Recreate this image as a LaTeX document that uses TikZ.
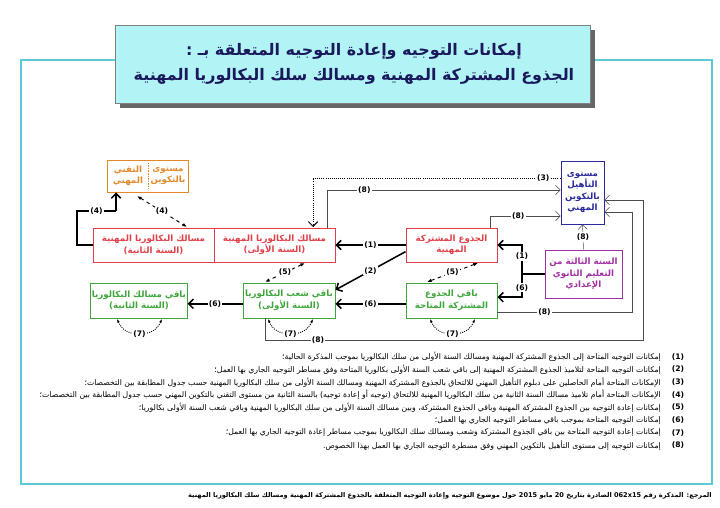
\documentclass[tikz,border=0pt]{standalone}
\usepackage{fontspec}
\setmainfont{DejaVu Sans}
\newfontfamily\arabicfont[Script=Arabic]{DejaVu Sans}
\TeXXeTstate=1
\newcommand{\ar}[1]{{\arabicfont\beginR #1\endR}}
\usetikzlibrary{arrows.meta}
\definecolor{frm}{HTML}{5CC9D6}
\definecolor{ttl}{HTML}{B2F3F6}
\definecolor{rd}{HTML}{E0404A}
\definecolor{gr}{HTML}{3FA63C}
\definecolor{org}{HTML}{E08A2A}
\definecolor{bl}{HTML}{2A2A9A}
\definecolor{pu}{HTML}{A030A0}
\begin{document}
\begin{tikzpicture}[x=0.03cm,y=-0.03cm,
  box/.style={draw=#1,text=#1,thick,fill=white,font=\bfseries\fontsize{7.4}{9.8}\selectfont,align=center,inner sep=1pt},
  lab/.style={fill=white,font=\bfseries\fontsize{6.5}{7}\selectfont,inner sep=1pt},
  thk/.style={line width=1.3pt,-{Straight Barb[length=4pt]}},
  thn/.style={draw=black!70,-{Straight Barb[length=4pt]}},
  dsh/.style={dashed,thick,{Latex[length=4pt]}-{Latex[length=4pt]}},
  dtd/.style={densely dotted,thick,{Latex[length=3pt]}-{Latex[length=3pt]}},
  leg/.style={font=\fontsize{6.6}{8}\selectfont,anchor=east,inner sep=0pt},
  num/.style={font=\bfseries\fontsize{6.5}{7}\selectfont,inner sep=0pt}]
\useasboundingbox (0,0) rectangle (720,508);
\fill[white] (0,0) rectangle (720,508);
% frame
\draw[frm,line width=2pt] (21,60) rectangle (712,484);
\fill[black!60] (120,30) rectangle (595,108);
\node[draw=black!50,fill=ttl,minimum width=475*0.03cm,minimum height=78*0.03cm,anchor=north west,inner sep=0pt] (title) at (115,25) {};
\node[text=bl!60!black,font=\bfseries\fontsize{13.6}{21}\selectfont,align=center] (tt) at (354,64) {\ar{إمكانات التوجيه وإعادة التوجيه المتعلقة بـ :}\\\ar{الجذوع المشتركة المهنية ومسالك سلك البكالوريا المهنية}};
% nodes
\node[box=org,minimum width=81*0.03cm,minimum height=32*0.03cm] (ot) at (147.5,176) {};
\node[text=org,font=\bfseries\fontsize{7.4}{9.8}\selectfont,align=center] (ot1) at (168,176) {\ar{مستوى}\\\ar{بالتكوين}};
\node[text=org,font=\bfseries\fontsize{7.4}{9.8}\selectfont,align=center] (ot2) at (128,176) {\ar{التقني}\\\ar{المهني}};
\draw[org,densely dotted] (148,163) -- (148,189);
\node[box=rd,minimum width=121*0.03cm,minimum height=34*0.03cm] (r2) at (153.5,245) {\ar{مسالك البكالوريا المهنية}\\\ar{(السنة الثانية)}};
\node[box=rd,minimum width=121*0.03cm,minimum height=34*0.03cm] (r1) at (274.5,245) {\ar{مسالك البكالوريا المهنية}\\\ar{(السنة الأولى)}};
\node[box=gr,minimum width=92*0.03cm,minimum height=35*0.03cm] (g2) at (139,300.5) {\ar{باقي مسالك البكالوريا}\\\ar{(السنة الثانية)}};
\node[box=gr,minimum width=92*0.03cm,minimum height=35*0.03cm] (g1) at (289,300.5) {\ar{باقي شعب البكالوريا}\\\ar{(السنة الأولى)}};
\node[box=rd,minimum width=91*0.03cm,minimum height=34*0.03cm] (rc) at (451.5,245) {\ar{الجذوع المشتركة}\\\ar{المهنية}};
\node[box=gr,minimum width=91*0.03cm,minimum height=35*0.03cm] (gc) at (451.5,300.5) {\ar{باقي الجذوع}\\\ar{المشتركة المتاحة}};
\node[box=bl,minimum width=43*0.03cm,minimum height=63*0.03cm] (bq) at (582.5,192.5) {\ar{مستوى}\\\ar{التأهيل}\\\ar{بالتكوين}\\\ar{المهني}};
\node[box=pu,minimum width=77*0.03cm,minimum height=48*0.03cm] (p3) at (583.5,274) {\ar{السنة الثالثة من}\\\ar{التعليم الثانوي}\\\ar{الإعدادي}};
% thick arrows
\draw[thk] (rc.west) -- node[lab]{(1)} (r1.east);
\draw[thk] ([yshift=-0.2cm]rc.west) -- node[lab,pos=0.5]{(2)} ([yshift=-0.22cm]g1.north east);
\draw[thk] ([yshift=-0.1cm]gc.west) -- node[lab]{(6)} ([yshift=-0.1cm]g1.east);
\draw[thk] ([yshift=-0.1cm]g1.west) -- node[lab]{(6)} ([yshift=-0.1cm]g2.east);
\coordinate (pj) at (522,274);
\draw[line width=1.3pt] (p3.west) -- (pj);
\draw[thk] (pj) |- node[lab,pos=0.3]{(1)} (rc.east);
\draw[thk] (pj) |- node[lab,pos=0.3]{(6)} ([yshift=0.1cm]gc.east);
\coordinate (c4a) at (77,245); \coordinate (c4b) at (77,211); \coordinate (c4c) at (116,211);
\draw[line width=1.3pt] (r2.west) -- (c4a) -- (c4b) -- node[lab]{(4)} (c4c);
\draw[thk] (c4c) -- (116,192.5);
% dashed
\draw[dsh] (137,196) -- node[lab]{(4)} (187,227);
\draw[dsh] (305,263) -- node[lab]{(5)} (265,282);
\draw[dsh] (478,263) -- node[lab]{(5)} (427,282);
\foreach \a/\b in {117/162,268/313,430/475}{
  \draw[dtd] (\a,319) .. controls (\a+5,330) and (\a+12,334) .. node[lab,pos=1]{(7)} (\a/2+\b/2,334) .. controls (\b-12,334) and (\b-5,330) .. (\b,319);}
% (3) dotted
\draw[densely dotted,thick,-{Straight Barb[length=4pt]}] (bq.west|-0,178) -- node[lab,pos=0.07]{(3)} (313,178) -- (313,227);
% (8) lines
\draw[thn] (p3.north) -- node[lab]{(8)} (bq.south);
\draw[thn] (490,228) |- node[lab,pos=0.7]{(8)} (bq.west|-0,216);
\draw[thn] (327,228) |- node[lab,pos=0.58]{(8)} (bq.west|-0,190);
\draw[thn] (gc.east|-0,312) -- node[lab,pos=0.35]{(8)} (632,312) -- (632,212) -- (bq.east|-0,212);
\draw[thn] (265,318) |- node[lab,pos=0.57]{(8)} (643,340) -- (643,200) -- (bq.east|-0,200);
% legend
\foreach \i/\t [count=\k] in {
1/{إمكانات التوجيه المتاحة إلى الجذوع المشتركة المهنية ومسالك السنة الأولى من سلك البكالوريا بموجب المذكرة الحالية؛},
2/{إمكانات التوجيه المتاحة لتلاميذ الجذوع المشتركة المهنية إلى باقي شعب السنة الأولى بكالوريا المتاحة وفق مساطر التوجيه الجاري بها العمل؛},
3/{الإمكانات المتاحة أمام الحاصلين على دبلوم التأهيل المهني للالتحاق بالجذوع المشتركة المهنية ومسالك السنة الأولى من سلك البكالوريا المهنية حسب جدول المطابقة بين التخصصات؛},
4/{الإمكانات المتاحة أمام تلاميذ مسالك السنة الثانية من سلك البكالوريا المهنية للالتحاق (توجيه أو إعادة توجيه) بالسنة الثانية من مستوى التقني بالتكوين المهني حسب جدول المطابقة بين التخصصات؛},
5/{إمكانات إعادة التوجيه بين الجذوع المشتركة المهنية وباقي الجذوع المشتركة، وبين مسالك السنة الأولى من سلك البكالوريا المهنية وباقي شعب السنة الأولى بكالوريا؛},
6/{إمكانات التوجيه المتاحة بموجب باقي مساطر التوجيه الجاري بها العمل؛},
7/{إمكانات إعادة التوجيه المتاحة بين باقي الجذوع المشتركة وشعب ومسالك سلك البكالوريا بموجب مساطر إعادة التوجيه الجاري بها العمل؛},
8/{إمكانات التوجيه إلى مستوى التأهيل بالتكوين المهني وفق مسطرة التوجيه الجاري بها العمل بهذا الخصوص.}}{
  \node[num] (n\i) at (678,344+12.7*\k) {(\i)};
  \node[leg] (l\i) at (661,344+12.7*\k) {\ar{\t}};}
% footer
\node[font=\bfseries\fontsize{5.6}{7}\selectfont,anchor=east,inner sep=0pt] (ft) at (712,496) {\ar{المرجع: المذكرة رقم \beginL062x15\endL{} الصادرة بتاريخ \beginL20\endL{} مايو \beginL2015\endL{} حول موضوع التوجيه وإعادة التوجيه المتعلقة بالجذوع المشتركة المهنية ومسالك سلك البكالوريا المهنية}};
\end{tikzpicture}
\end{document}
